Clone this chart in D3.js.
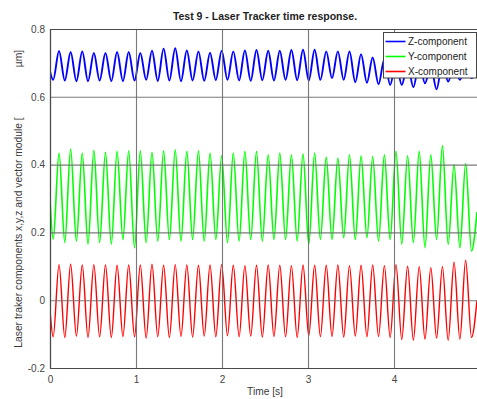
<!DOCTYPE html>
<html><head><meta charset="utf-8">
<script src="https://cdn.jsdelivr.net/npm/d3@7"></script>
<style>body{margin:0;background:#fff;overflow:hidden}</style>
</head><body><svg id="c" width="477" height="399"></svg>
<script>
// Time stamps of the start point, alternating troughs/peaks, and end point [s]
const times=[0,
0.037,0.105, 0.172,0.240, 0.307,0.375, 0.442,0.510, 0.577,0.645, 0.713,0.780, 0.848,0.915,
0.983,1.050, 1.118,1.186, 1.253,1.321, 1.388,1.456, 1.523,1.591, 1.658,1.726, 1.793,1.861, 1.928,1.996,
2.064,2.131, 2.199,2.266, 2.334,2.401, 2.469,2.537, 2.604,2.672, 2.739,2.807, 2.874,2.942,
3.009,3.077, 3.144,3.212, 3.279,3.347, 3.415,3.482, 3.550,3.617, 3.685,3.752, 3.820,3.888,
3.955,4.023, 4.090,4.158, 4.225,4.293, 4.360,4.428, 4.495,4.563, 4.630,4.698, 4.766,4.833,
4.901, 4.965];
const zVals=[0.675,
0.650,0.735, 0.648,0.732, 0.646,0.734, 0.646,0.729, 0.648,0.729, 0.646,0.732, 0.646,0.732,
0.648,0.729, 0.650,0.736, 0.647,0.742, 0.648,0.743, 0.646,0.737, 0.648,0.734, 0.647,0.730, 0.649,0.736,
0.650,0.734, 0.648,0.737, 0.647,0.738, 0.649,0.736, 0.648,0.736, 0.650,0.738, 0.649,0.739,
0.648,0.739, 0.650,0.734, 0.655,0.734, 0.650,0.734, 0.643,0.726, 0.641,0.716, 0.637,0.712,
0.635,0.700, 0.635,0.695, 0.628,0.700, 0.640,0.690, 0.622,0.700, 0.645,0.695, 0.650,0.690,
0.655, 0.672];
const yVals=[0.300,
0.180,0.434, 0.170,0.446, 0.174,0.434, 0.165,0.442, 0.170,0.436, 0.165,0.439, 0.179,0.441,
0.155,0.441, 0.170,0.436, 0.174,0.441, 0.179,0.444, 0.174,0.439, 0.179,0.441, 0.174,0.434, 0.179,0.426,
0.170,0.434, 0.174,0.439, 0.179,0.439, 0.174,0.429, 0.179,0.434, 0.179,0.429, 0.174,0.432,
0.165,0.434, 0.179,0.422, 0.179,0.419, 0.184,0.429, 0.179,0.426, 0.184,0.424, 0.174,0.429,
0.179,0.439, 0.165,0.426, 0.170,0.439, 0.155,0.429, 0.179,0.456, 0.165,0.400, 0.155,0.403,
0.145, 0.260];
const xVals=[-0.030,
-0.108,0.105, -0.110,0.106, -0.106,0.104, -0.110,0.105, -0.108,0.104, -0.110,0.103, -0.107,0.104,
-0.108,0.104, -0.112,0.106, -0.108,0.103, -0.110,0.105, -0.107,0.104, -0.109,0.103, -0.106,0.104, -0.108,0.105,
-0.105,0.103, -0.108,0.102, -0.106,0.103, -0.109,0.104, -0.107,0.103, -0.108,0.102, -0.110,0.104,
-0.105,0.103, -0.108,0.103, -0.107,0.104, -0.109,0.102, -0.106,0.103, -0.108,0.104, -0.107,0.102,
-0.110,0.105, -0.116,0.100, -0.118,0.099, -0.115,0.096, -0.112,0.099, -0.118,0.112, -0.115,0.118,
-0.110, 0.000];
const xTicks=[0,1,2,3,4];
const yTicks=[-0.2,0,0.2,0.4,0.6,0.8];
const yTickLabels=["-0.2","0","0.2","0.4","0.6","0.8"];
const seriesNames=["Z-component","Y-component","X-component"];
const seriesColors=["#0000ff","#00ff00","#ff0000"];
const seriesWidths=[1.9,1.6,1.4];
const titleText="Test 9 - Laser Tracker time response.";
const xLabel="Time [s]";
const yLabelMain="Laser traker components x,y,z and vector module [";
const yLabelUnit="µm]";

const L=50,R=477,T=29,B=368;
const svg=d3.select("#c").style("font-family","'Liberation Sans',Arial,Helvetica,sans-serif");
const x=d3.scaleLinear().domain([0,4.965]).range([L,R]);
const y=d3.scaleLinear().domain([-0.2,0.8]).range([B,T]);

svg.append("defs").append("clipPath").attr("id","clip")
  .append("rect").attr("x",L).attr("y",T).attr("width",R-L).attr("height",B-T);

const series=[zVals,yVals,xVals];
const line=d3.line().x((d,i)=>x(times[i])).y(d=>y(d)).curve(d3.curveMonotoneX);
const lines=svg.append("g").attr("clip-path","url(#clip)");
series.forEach((vals,k)=>{
  lines.append("path").datum(vals).attr("d",line)
    .attr("fill","none").attr("stroke",seriesColors[k]).attr("stroke-width",seriesWidths[k])
    .attr("stroke-linejoin","round");
});

// grid + axes
const gx=svg.append("g").attr("transform",`translate(0,${B})`)
  .call(d3.axisBottom(x).tickValues(xTicks).tickSize(-(B-T)).tickPadding(7.5).tickFormat(d3.format("d")));
gx.select(".domain").remove();
gx.selectAll("line").attr("stroke","#6a6a6a").attr("stroke-width",1.1).attr("stroke-opacity",0.9);
gx.selectAll("text").attr("fill","#444").attr("font-size",10).attr("font-family","'Liberation Sans',Arial,sans-serif");

const gy=svg.append("g").attr("transform",`translate(${L},0)`)
  .call(d3.axisLeft(y).tickValues(yTicks).tickSize(-(R-L)).tickPadding(5).tickFormat((d,i)=>yTickLabels[i]));
gy.select(".domain").remove();
gy.selectAll("line").attr("stroke","#6a6a6a").attr("stroke-width",1.1).attr("stroke-opacity",0.9);
gy.selectAll("text").attr("fill","#444").attr("font-size",10).attr("font-family","'Liberation Sans',Arial,sans-serif");

// frame
svg.append("path").attr("d",`M${R},${T+0.5}H${L+0.5}V${B+0.5}H${R}`)
  .attr("fill","none").attr("stroke","#4a4a4a").attr("stroke-width",1.2);

// title and labels
svg.append("text").attr("x",265).attr("y",20).attr("text-anchor","middle")
  .attr("font-weight","bold").attr("font-size",10.5).attr("fill","#1e1e1e").text(titleText);
svg.append("text").attr("x",265).attr("y",395).attr("text-anchor","middle")
  .attr("font-size",10.2).attr("fill","#3a3a3a").text(xLabel);
svg.append("text").attr("transform","translate(22,232.5) rotate(-90)").attr("text-anchor","middle")
  .attr("font-size",10.3).attr("fill","#3a3a3a").text(yLabelMain);
svg.append("text").attr("transform","translate(22,58.5) rotate(-90)").attr("text-anchor","middle")
  .attr("font-size",10.3).attr("fill","#3a3a3a").text(yLabelUnit);

// legend
const lg=svg.append("g");
lg.append("rect").attr("x",383.5).attr("y",32.5).attr("width",93).attr("height",45.5)
  .attr("fill","#fff").attr("stroke","#444").attr("stroke-width",1);
seriesNames.forEach((n,k)=>{
  const yy=41.5+k*15;
  lg.append("line").attr("x1",385.5).attr("x2",405.5).attr("y1",yy).attr("y2",yy)
    .attr("stroke",seriesColors[k]).attr("stroke-width",1.6);
  lg.append("text").attr("x",408).attr("y",yy).attr("dy","0.35em")
    .attr("font-size",10).attr("fill","#222").text(n);
});
</script></body></html>
